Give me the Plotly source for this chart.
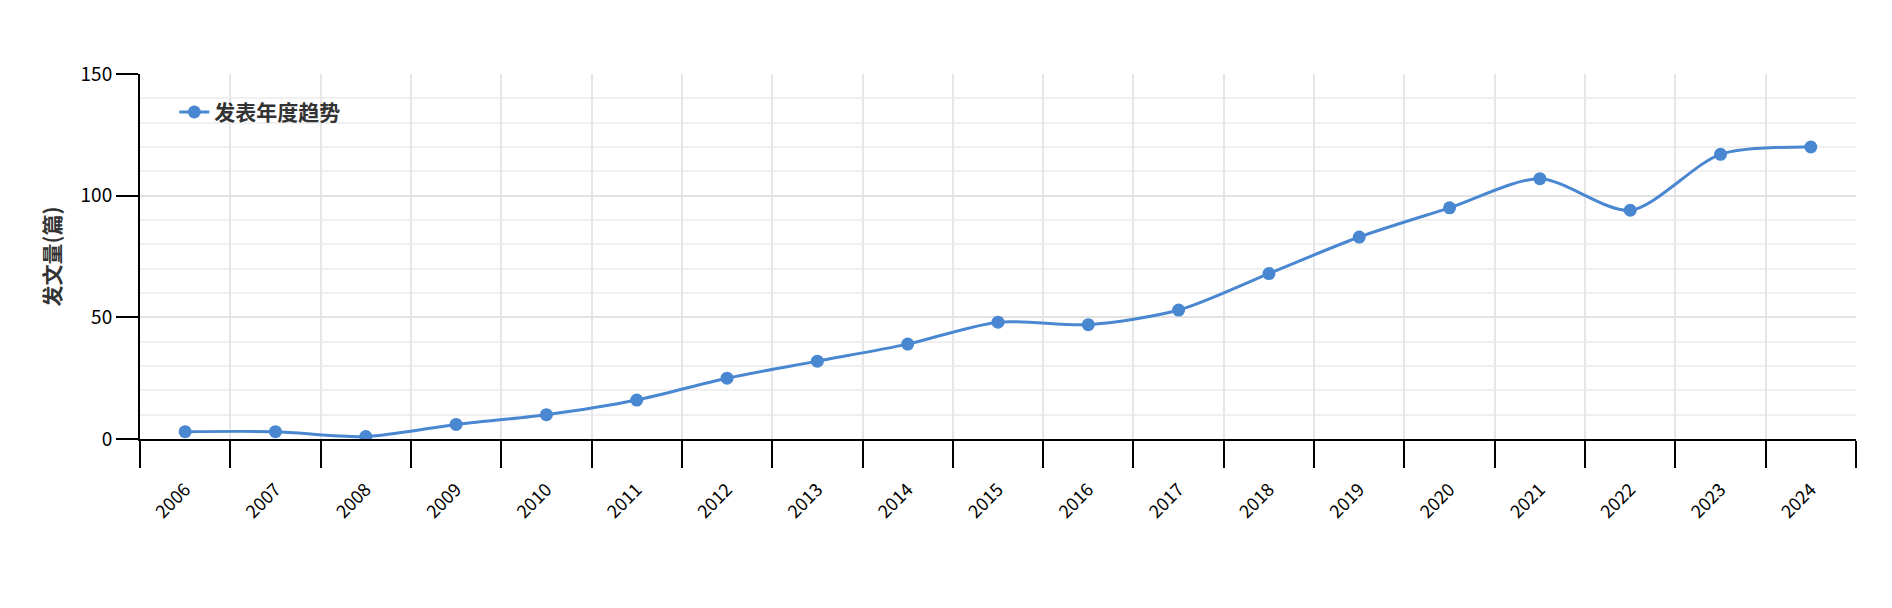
import plotly.graph_objects as go

years = [str(y) for y in range(2006, 2025)]
counts = [3, 3, 1, 6, 10, 16, 25, 32, 39, 48, 47, 53, 68, 83, 95, 107, 94, 117, 120]
series_name = "发表年度趋势"
y_title = "发文量(篇)"

n = len(years)
xs = list(range(n))
font = "Noto Sans CJK SC, Noto Sans, sans-serif"

fig = go.Figure()
fig.add_trace(go.Scatter(
    x=xs, y=counts, name=series_name, mode="lines+markers",
    line=dict(color="#4a87d1", width=3, shape="spline", smoothing=0.8),
    marker=dict(size=13, color="#4a87d1"), xaxis="x", yaxis="y"))
fig.add_trace(go.Scatter(x=[0], y=[0], xaxis="x2", yaxis="y", showlegend=False,
                         hoverinfo="skip", mode="markers", marker=dict(opacity=0)))

fig.update_layout(
    width=1892, height=608, paper_bgcolor="white", plot_bgcolor="white",
    margin=dict(l=132, r=44, t=66, b=177),
    font=dict(family=font, size=18, color="#000"),
    showlegend=True,
    legend=dict(x=0.02, y=0.895, xanchor="left", yanchor="middle",
                font=dict(size=21, color="#333", family=font, weight="bold"),
                bgcolor="rgba(0,0,0,0)"),
    xaxis=dict(range=[-0.5, n - 0.5], tickvals=[i - 0.5 for i in range(n + 1)],
               ticktext=[""] * (n + 1), ticks="outside", ticklen=27, tickwidth=2,
               tickcolor="#000", showline=True, linecolor="#000", linewidth=2,
               showgrid=True, gridcolor="#e6e6e6", gridwidth=2, zeroline=False),
    xaxis2=dict(range=[-0.5, n - 0.5], overlaying="x", side="bottom",
                tickvals=xs, ticktext=years, tickangle=-45, ticks="outside",
                ticklen=32, tickcolor="rgba(0,0,0,0)", showgrid=False,
                showline=False, zeroline=False, tickfont=dict(size=18)),
    yaxis=dict(range=[0, 150], tickvals=[0, 50, 100, 150], ticks="outside",
               ticklen=22, tickwidth=2, tickcolor="#000", showline=True,
               linecolor="#000", linewidth=2, showgrid=True, gridcolor="#e3e3e3",
               gridwidth=2, zeroline=False, tickfont=dict(size=19),
               minor=dict(dtick=10, showgrid=True, gridcolor="#f0f0f0", gridwidth=2),
               title=dict(text=y_title, font=dict(size=21, color="#333", weight="bold"),
                          standoff=14)),
)
fig.write_html("out.html")
